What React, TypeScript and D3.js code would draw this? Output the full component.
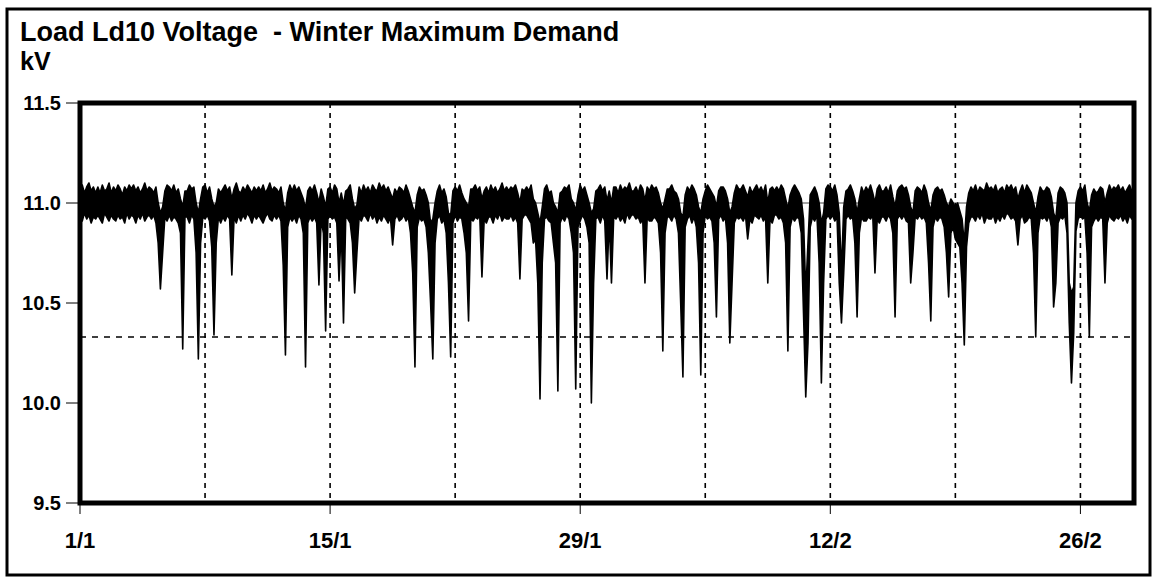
import React from "react";
import * as d3 from "d3";

// ---- Data ----
const title = "Load Ld10 Voltage  - Winter Maximum Demand";
const unitLabel = "kV";
const startDate = new Date(Date.UTC(1995, 0, 1));
const endDate = new Date(Date.UTC(1995, 2, 1));
const samplesPerDay = 8; // 3-hourly envelope of the readings
const yTicks = [9.5, 10.0, 10.5, 11.0, 11.5];
const gridDays = [7, 14, 21, 28, 35, 42, 49, 56];
const labelDays = [0, 14, 28, 42, 56];
const limitValue = 10.33;
const nominalValue = 11.0;

// 3-hourly maximum voltage (kV), one row per day, 1 Jan .. 28 Feb
const voltageMax: number[] = [
  11.07, 11.09, 11.05, 11.08, 11.10, 11.06, 11.08, 11.05, // 1/1
  11.08, 11.05, 11.09, 11.06, 11.07, 11.10, 11.05, 11.08,
  11.06, 11.09, 11.07, 11.04, 11.08, 11.06, 11.09, 11.07,
  11.09, 11.06, 11.08, 11.05, 11.07, 11.10, 11.06, 11.08,
  11.07, 11.05, 11.08, 11.00, 10.95, 10.98, 11.06, 11.09,
  11.08, 11.06, 11.09, 11.05, 11.07, 11.02, 10.98, 11.06,
  11.06, 11.09, 11.07, 11.08, 11.00, 10.95, 11.02, 11.08,
  11.09, 11.05, 11.08, 11.02, 10.98, 11.00, 11.07, 11.05, // 8/1
  11.07, 11.09, 11.06, 11.08, 11.02, 11.07, 11.10, 11.06,
  11.05, 11.08, 11.06, 11.09, 11.07, 11.05, 11.08, 11.06,
  11.08, 11.06, 11.09, 11.05, 11.07, 11.10, 11.06, 11.08,
  11.07, 11.05, 11.08, 11.00, 10.96, 11.05, 11.09, 11.06,
  11.09, 11.06, 11.08, 11.05, 11.02, 10.97, 11.06, 11.08,
  11.06, 11.09, 11.05, 11.00, 11.07, 11.03, 10.98, 11.07,
  11.08, 11.05, 11.09, 11.07, 11.00, 11.05, 10.99, 11.06, // 15/1
  11.07, 11.09, 11.02, 10.97, 10.99, 11.08, 11.05, 11.09,
  11.06, 11.08, 11.05, 11.09, 11.07, 11.06, 11.10, 11.07,
  11.09, 11.06, 11.08, 11.05, 11.02, 11.07, 11.05, 11.08,
  11.07, 11.05, 11.09, 11.06, 11.02, 10.98, 10.95, 11.04,
  11.08, 11.06, 11.07, 11.04, 11.00, 10.90, 10.92, 11.00,
  11.06, 11.09, 11.05, 11.07, 11.03, 10.95, 10.94, 11.06,
  11.08, 11.06, 11.09, 11.05, 11.02, 11.00, 10.98, 11.07, // 22/1
  11.07, 11.09, 11.06, 11.08, 11.02, 11.06, 11.08, 11.05,
  11.09, 11.06, 11.08, 11.05, 11.07, 11.10, 11.06, 11.08,
  11.06, 11.08, 11.07, 11.09, 11.05, 11.00, 11.07, 11.06,
  11.08, 11.06, 11.09, 11.02, 11.00, 10.95, 10.90, 10.98,
  11.07, 11.09, 11.05, 11.06, 11.00, 10.98, 10.95, 11.05,
  11.06, 11.08, 11.07, 11.09, 11.02, 11.00, 10.96, 11.04,
  11.09, 11.06, 11.08, 11.04, 11.00, 10.95, 10.97, 11.06, // 29/1
  11.07, 11.09, 11.06, 11.08, 11.01, 11.06, 11.00, 11.08,
  11.08, 11.05, 11.09, 11.06, 11.08, 11.07, 11.10, 11.06,
  11.06, 11.08, 11.05, 11.09, 11.07, 11.01, 11.08, 11.06,
  11.09, 11.07, 11.08, 11.05, 11.00, 10.97, 11.02, 11.07,
  11.07, 11.09, 11.06, 11.05, 11.02, 10.95, 10.93, 11.04,
  11.08, 11.06, 11.09, 11.07, 11.04, 10.98, 10.95, 11.02,
  11.06, 11.09, 11.07, 11.05, 11.03, 10.98, 11.06, 11.08, // 5/2
  11.08, 11.06, 11.02, 10.95, 10.98, 11.05, 11.09, 11.07,
  11.07, 11.09, 11.06, 11.03, 11.08, 11.05, 11.07, 11.09,
  11.06, 11.08, 11.05, 11.09, 11.00, 11.07, 11.08, 11.06,
  11.08, 11.06, 11.09, 11.07, 11.02, 10.97, 11.04, 11.07,
  11.09, 11.07, 11.05, 11.02, 10.92, 10.55, 10.80, 11.04,
  11.06, 11.08, 11.05, 11.00, 10.90, 10.95, 11.07, 11.09,
  11.08, 11.06, 11.09, 11.04, 10.95, 10.65, 10.98, 11.06, // 12/2
  11.07, 11.09, 11.06, 11.02, 10.95, 11.02, 11.08, 11.05,
  11.08, 11.06, 11.09, 11.05, 11.00, 11.07, 11.09, 11.06,
  11.06, 11.08, 11.05, 11.09, 11.03, 10.98, 11.06, 11.08,
  11.09, 11.07, 11.08, 11.04, 10.98, 10.95, 11.06, 11.08,
  11.07, 11.05, 11.09, 11.06, 11.00, 10.96, 11.04, 11.07,
  11.08, 11.06, 11.07, 11.04, 11.00, 10.98, 11.02, 11.00,
  10.98, 11.00, 10.96, 10.92, 10.80, 10.98, 11.05, 11.08, // 19/2
  11.06, 11.09, 11.05, 11.08, 11.07, 11.06, 11.10, 11.07,
  11.08, 11.06, 11.09, 11.05, 11.07, 11.08, 11.05, 11.09,
  11.07, 11.09, 11.06, 11.08, 11.02, 11.06, 11.09, 11.05,
  11.09, 11.07, 11.05, 11.00, 10.95, 11.03, 11.08, 11.06,
  11.06, 11.08, 11.07, 11.03, 10.95, 10.92, 11.05, 11.08,
  11.07, 11.05, 11.00, 10.60, 10.55, 10.58, 11.00, 11.06,
  11.08, 11.06, 11.09, 11.00, 10.96, 11.04, 11.07, 11.05, // 26/2
  11.06, 11.08, 11.07, 11.00, 11.05, 11.09, 11.06, 11.08,
  11.07, 11.09, 11.06, 11.08, 11.05, 11.07, 11.09, 11.06,
];

// 3-hourly minimum voltage (kV), one row per day, 1 Jan .. 28 Feb
const voltageMin: number[] = [
  10.93, 10.91, 10.95, 10.92, 10.94, 10.90, 10.93, 10.92, // 1/1
  10.94, 10.92, 10.90, 10.95, 10.93, 10.91, 10.94, 10.92,
  10.91, 10.94, 10.92, 10.93, 10.90, 10.95, 10.92, 10.94,
  10.93, 10.90, 10.94, 10.92, 10.95, 10.91, 10.93, 10.94,
  10.92, 10.94, 10.90, 10.80, 10.57, 10.75, 10.93, 10.91,
  10.94, 10.91, 10.93, 10.92, 10.90, 10.85, 10.27, 10.93,
  10.93, 10.90, 10.94, 10.92, 10.75, 10.22, 10.80, 10.93,
  10.92, 10.94, 10.91, 10.78, 10.34, 10.80, 10.93, 10.90, // 8/1
  10.93, 10.91, 10.94, 10.92, 10.64, 10.93, 10.90, 10.94,
  10.91, 10.94, 10.92, 10.95, 10.93, 10.90, 10.94, 10.92,
  10.94, 10.92, 10.90, 10.93, 10.95, 10.92, 10.91, 10.94,
  10.92, 10.94, 10.91, 10.69, 10.24, 10.88, 10.93, 10.91,
  10.93, 10.90, 10.94, 10.92, 10.85, 10.18, 10.90, 10.93,
  10.91, 10.93, 10.90, 10.59, 10.92, 10.85, 10.36, 10.92,
  10.94, 10.92, 10.93, 10.90, 10.61, 10.88, 10.40, 10.93, // 15/1
  10.92, 10.90, 10.80, 10.55, 10.75, 10.93, 10.91, 10.94,
  10.93, 10.91, 10.95, 10.92, 10.94, 10.90, 10.93, 10.91,
  10.94, 10.92, 10.90, 10.93, 10.79, 10.92, 10.94, 10.91,
  10.92, 10.94, 10.91, 10.93, 10.85, 10.65, 10.18, 10.88,
  10.93, 10.91, 10.92, 10.88, 10.75, 10.50, 10.22, 10.80,
  10.92, 10.94, 10.90, 10.92, 10.85, 10.60, 10.23, 10.90,
  10.94, 10.91, 10.93, 10.92, 10.85, 10.75, 10.41, 10.92, // 22/1
  10.91, 10.93, 10.92, 10.94, 10.63, 10.92, 10.90, 10.93,
  10.93, 10.90, 10.94, 10.92, 10.95, 10.91, 10.93, 10.92,
  10.92, 10.94, 10.91, 10.93, 10.90, 10.62, 10.92, 10.94,
  10.94, 10.92, 10.90, 10.80, 10.82, 10.60, 10.02, 10.70,
  10.92, 10.93, 10.91, 10.90, 10.80, 10.70, 10.06, 10.90,
  10.93, 10.91, 10.94, 10.92, 10.85, 10.75, 10.07, 10.88,
  10.91, 10.94, 10.92, 10.88, 10.80, 10.00, 10.60, 10.92, // 29/1
  10.93, 10.90, 10.94, 10.91, 10.62, 10.92, 10.60, 10.93,
  10.92, 10.94, 10.91, 10.93, 10.90, 10.95, 10.92, 10.94,
  10.94, 10.92, 10.93, 10.90, 10.92, 10.60, 10.93, 10.91,
  10.91, 10.93, 10.92, 10.90, 10.75, 10.26, 10.85, 10.93,
  10.93, 10.91, 10.94, 10.92, 10.85, 10.50, 10.13, 10.88,
  10.92, 10.94, 10.90, 10.93, 10.88, 10.70, 10.14, 10.85,
  10.94, 10.92, 10.93, 10.91, 10.80, 10.43, 10.92, 10.94, // 5/2
  10.91, 10.93, 10.80, 10.30, 10.60, 10.90, 10.93, 10.92,
  10.93, 10.91, 10.94, 10.82, 10.92, 10.90, 10.94, 10.93,
  10.92, 10.94, 10.91, 10.93, 10.60, 10.92, 10.90, 10.94,
  10.94, 10.92, 10.93, 10.90, 10.80, 10.26, 10.88, 10.93,
  10.91, 10.93, 10.92, 10.85, 10.45, 10.03, 10.30, 10.88,
  10.93, 10.91, 10.94, 10.70, 10.10, 10.60, 10.92, 10.94,
  10.92, 10.94, 10.91, 10.93, 10.60, 10.40, 10.65, 10.92, // 12/2
  10.94, 10.92, 10.93, 10.80, 10.43, 10.85, 10.93, 10.91,
  10.91, 10.93, 10.92, 10.94, 10.65, 10.92, 10.90, 10.93,
  10.93, 10.91, 10.94, 10.92, 10.85, 10.43, 10.92, 10.94,
  10.92, 10.94, 10.91, 10.90, 10.60, 10.75, 10.93, 10.92,
  10.94, 10.92, 10.93, 10.90, 10.70, 10.41, 10.88, 10.93,
  10.91, 10.93, 10.92, 10.88, 10.75, 10.53, 10.85, 10.88,
  10.82, 10.80, 10.78, 10.60, 10.29, 10.78, 10.90, 10.93, // 19/2
  10.93, 10.91, 10.94, 10.92, 10.95, 10.90, 10.93, 10.92,
  10.92, 10.94, 10.90, 10.93, 10.91, 10.94, 10.92, 10.95,
  10.94, 10.92, 10.93, 10.91, 10.79, 10.92, 10.94, 10.90,
  10.91, 10.93, 10.92, 10.75, 10.33, 10.85, 10.93, 10.92,
  10.93, 10.91, 10.94, 10.88, 10.48, 10.60, 10.90, 10.93,
  10.92, 10.94, 10.85, 10.40, 10.10, 10.35, 10.86, 10.92,
  10.94, 10.92, 10.93, 10.75, 10.33, 10.88, 10.91, 10.93, // 26/2
  10.91, 10.93, 10.92, 10.60, 10.90, 10.94, 10.92, 10.91,
  10.93, 10.92, 10.94, 10.91, 10.93, 10.90, 10.94, 10.92,
];

const FONT = "'Liberation Sans', Arial, Helvetica, sans-serif";
const W = 1156;
const H = 578;
const plot = { left: 80, right: 1134, top: 103, bottom: 503 };

type Pt = { t: Date; hi: number; lo: number };

export default function App() {
  const dayMs = 86400000;
  const x = d3.scaleUtc().domain([startDate, endDate]).range([plot.left, plot.right]);
  const y = d3.scaleLinear().domain([9.5, 11.5]).range([plot.bottom, plot.top]);

  const points: Pt[] = voltageMax.map((hi, i) => ({
    t: new Date(startDate.getTime() + (i / samplesPerDay) * dayMs),
    hi,
    lo: voltageMin[i],
  }));
  const area = d3
    .area<Pt>()
    .x((d) => x(d.t))
    .y0((d) => y(d.lo))
    .y1((d) => y(d.hi));

  const weekLines = gridDays.map((n) => d3.utcDay.offset(startDate, n));
  const labelTicks = labelDays.map((n) => d3.utcDay.offset(startDate, n));
  const fmt = d3.utcFormat("%-d/%-m");

  return (
    <svg
      width={W}
      height={H}
      style={{ position: "absolute", left: 0, top: 0, background: "#fff" }}
      fontFamily={FONT}
    >
      <rect x={0} y={0} width={W} height={H} fill="#fff" />
      {/* outer frame */}
      <rect x={7} y={9} width={1143} height={566} fill="none" stroke="#000" strokeWidth={3} />

      <text x={20} y={41} fontSize={27} fontWeight="bold" style={{ whiteSpace: "pre" }}>
        {title}
      </text>
      <text x={20} y={70} fontSize={25} fontWeight="bold">
        {unitLabel}
      </text>

      {/* nominal line */}
      <line
        x1={plot.left}
        x2={plot.right}
        y1={y(nominalValue)}
        y2={y(nominalValue)}
        stroke="#333"
        strokeWidth={0.9}
      />

      {/* weekly dashed gridlines */}
      {weekLines.map((d, i) => (
        <line
          key={i}
          x1={x(d)}
          x2={x(d)}
          y1={plot.top}
          y2={plot.bottom}
          stroke="#000"
          strokeWidth={1.6}
          strokeDasharray="5,5"
        />
      ))}

      {/* limit dashed line */}
      <line
        x1={plot.left}
        x2={plot.right}
        y1={y(limitValue)}
        y2={y(limitValue)}
        stroke="#000"
        strokeWidth={1.5}
        strokeDasharray="6,6"
      />

      {/* data envelope */}
      <path
        d={area(points) || ""}
        fill="#000"
        stroke="#000"
        strokeWidth={1.6}
        strokeLinejoin="round"
      />

      {/* plot border */}
      <rect
        x={plot.left}
        y={plot.top}
        width={plot.right - plot.left}
        height={plot.bottom - plot.top}
        fill="none"
        stroke="#000"
        strokeWidth={5}
      />

      {/* y axis */}
      {yTicks.map((v) => (
        <g key={v}>
          <line x1={66} x2={plot.left} y1={y(v)} y2={y(v)} stroke="#000" strokeWidth={1} />
          <text x={61} y={y(v)} dy="0.36em" textAnchor="end" fontSize={20} fontWeight="bold">
            {d3.format(".1f")(v)}
          </text>
        </g>
      ))}

      {/* x axis */}
      {labelTicks.map((d, i) => (
        <g key={i}>
          <line x1={x(d)} x2={x(d)} y1={plot.bottom} y2={plot.bottom + 11} stroke="#000" strokeWidth={1} />
          <text x={x(d)} y={548} textAnchor="middle" fontSize={22} fontWeight="bold">
            {fmt(d)}
          </text>
        </g>
      ))}
    </svg>
  );
}
